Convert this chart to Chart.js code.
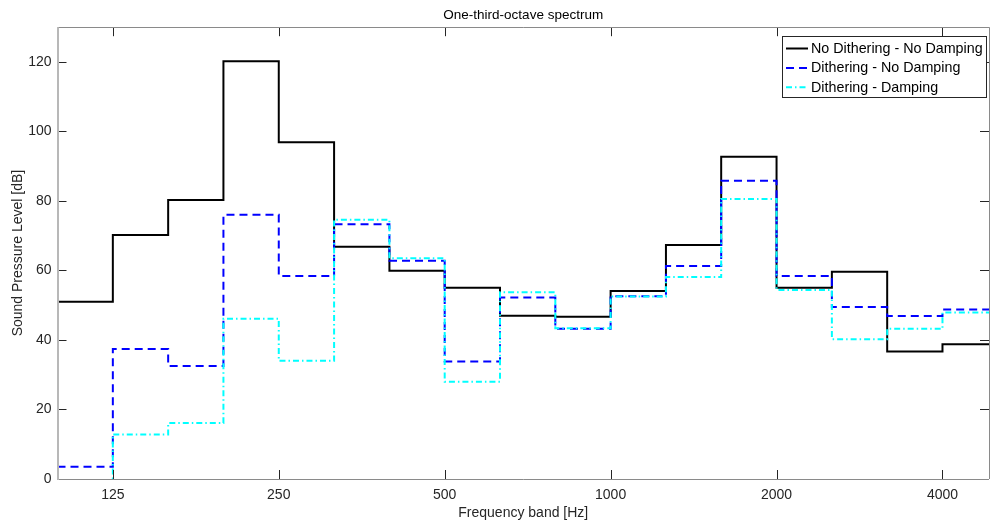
<!DOCTYPE html>
<html>
<head>
<meta charset="utf-8">
<script src="https://cdn.jsdelivr.net/npm/chart.js@4/dist/chart.umd.min.js"></script>
<style>
    html, body { margin: 0; padding: 0; background: #fff; }
</style>
</head>
<body>
<canvas id="spectrumChart" width="990" height="523"></canvas>
<script>
// Stair edges: 1/3-octave band centres in Hz (last one just closes the final step)
const bandFreqs = [99.2, 125, 157.5, 198.4, 250, 315, 396.9, 500, 630, 793.7, 1000, 1260, 1587, 2000, 2520, 3175, 4000, 5040];

// Levels per band in dB
const noDitherNoDamp = [51.0, 70.2, 80.3, 120.2, 96.9, 66.8, 59.9, 55.0, 47.0, 46.7, 54.1, 67.3, 92.7, 55.0, 59.6, 36.7, 38.8];
const ditherNoDamp   = [3.5, 37.4, 32.5, 76.0, 58.4, 73.3, 62.8, 33.8, 52.2, 43.2, 52.6, 61.3, 85.8, 58.4, 49.5, 46.9, 48.8];
const ditherDamp     = [-10, 12.8, 16.1, 46.1, 34.0, 74.6, 63.5, 28.0, 53.7, 43.4, 52.5, 58.1, 80.6, 54.4, 40.2, 43.2, 47.9];

const seriesLabels = ['No Dithering - No Damping', 'Dithering - No Damping', 'Dithering - Damping'];

// Axis ticks
const xTickValues = [125, 250, 500, 1000, 2000, 4000];
const yTickValues = [0, 20, 40, 60, 80, 100, 120];

// Turn a level list into stair points (value held until the next band)
function toStairs(levels) {
    const pts = levels.map((v, i) => ({ x: bandFreqs[i], y: v }));
    pts.push({ x: bandFreqs[levels.length], y: levels[levels.length - 1] });
    return pts;
}

const FONT = 'Arial, "Liberation Sans", Helvetica, sans-serif';

// MATLAB-like box, inward ticks and inset legend
const matlabAxes = {
    id: 'matlabAxes',
    afterDatasetsDraw(chart) {
        const { ctx, chartArea: a, scales } = chart;
        const x = scales.x, y = scales.y;
        const tl = 9;
        ctx.save();

        // tick marks on all four sides
        ctx.strokeStyle = '#262626';
        ctx.lineWidth = 1;
        ctx.beginPath();
        x.ticks.forEach(t => {
            const px = Math.round(x.getPixelForValue(t.value)) + 0.5;
            ctx.moveTo(px, a.bottom); ctx.lineTo(px, a.bottom - tl);
            ctx.moveTo(px, a.top); ctx.lineTo(px, a.top + tl);
        });
        y.ticks.forEach(t => {
            const py = Math.round(y.getPixelForValue(t.value)) + 0.5;
            ctx.moveTo(a.left, py); ctx.lineTo(a.left + tl, py);
            ctx.moveTo(a.right, py); ctx.lineTo(a.right - tl, py);
        });
        ctx.stroke();

        // axes box
        ctx.strokeStyle = '#8a8a8a';
        ctx.beginPath();
        ctx.moveTo(a.left, Math.round(a.top) + 0.5);
        ctx.lineTo(a.right, Math.round(a.top) + 0.5);
        ctx.moveTo(a.left, Math.round(a.bottom) + 0.5);
        ctx.lineTo(a.right, Math.round(a.bottom) + 0.5);
        ctx.moveTo(Math.round(a.right) + 0.5, a.top);
        ctx.lineTo(Math.round(a.right) + 0.5, a.bottom);
        ctx.stroke();
        ctx.strokeStyle = '#b8b8b8';
        ctx.lineWidth = 2;
        ctx.beginPath();
        ctx.moveTo(Math.round(a.left), a.top);
        ctx.lineTo(Math.round(a.left), a.bottom + 1);
        ctx.stroke();

        // legend
        const lx = 782.5, ly = 36.5, lw = 204, lh = 61;
        ctx.fillStyle = '#fff';
        ctx.fillRect(lx, ly, lw, lh);
        ctx.strokeStyle = '#262626';
        ctx.lineWidth = 1;
        ctx.strokeRect(lx, ly, lw, lh);
        ctx.font = '14.3px ' + FONT;
        ctx.textBaseline = 'middle';
        ctx.textAlign = 'left';
        chart.data.datasets.forEach((ds, i) => {
            const rowY = 48.5 + i * 19.4;
            ctx.strokeStyle = ds.borderColor;
            ctx.lineWidth = ds.borderWidth;
            ctx.setLineDash(ds.borderDash || []);
            ctx.beginPath();
            ctx.moveTo(786, rowY);
            ctx.lineTo(808, rowY);
            ctx.stroke();
            ctx.setLineDash([]);
            ctx.fillStyle = '#000';
            ctx.fillText(ds.label, 811, rowY + 0.5);
        });
        ctx.restore();
    }
};

new Chart(document.getElementById('spectrumChart'), {
    type: 'line',
    data: {
        datasets: [{
            label: seriesLabels[0],
            data: toStairs(noDitherNoDamp),
            borderColor: '#000000',
            borderWidth: 2,
            order: 3
        }, {
            label: seriesLabels[1],
            data: toStairs(ditherNoDamp),
            borderColor: '#0000ff',
            borderWidth: 2,
            borderDash: [8, 5],
            order: 2
        }, {
            label: seriesLabels[2],
            data: toStairs(ditherDamp),
            borderColor: '#00ffff',
            borderWidth: 2,
            borderDash: [6, 3, 1.5, 3],
            order: 1
        }]
    },
    options: {
        responsive: false,
        animation: false,
        devicePixelRatio: 1,
        elements: {
            line: { stepped: 'before', tension: 0, fill: false },
            point: { radius: 0, hoverRadius: 0 }
        },
        layout: { padding: { left: 0, right: 1, top: 0, bottom: 0 } },
        plugins: {
            legend: { display: false },
            tooltip: { enabled: false },
            title: {
                display: true,
                fullSize: false,
                text: 'One-third-octave spectrum',
                color: '#000',
                font: { family: FONT, size: 13.5, weight: 'normal', lineHeight: 1.2 },
                padding: { top: 7, bottom: 4 }
            }
        },
        scales: {
            x: {
                type: 'logarithmic',
                min: 99.2,
                max: 4858,
                grid: { display: false, drawTicks: false },
                border: { display: false },
                afterBuildTicks: s => { s.ticks = xTickValues.map(v => ({ value: v })); },
                afterFit: s => { s.height = 44; },
                ticks: {
                    autoSkip: false,
                    maxRotation: 0,
                    padding: 7.5,
                    color: '#262626',
                    font: { family: FONT, size: 14 },
                    callback: v => String(v)
                },
                title: {
                    display: true,
                    text: 'Frequency band [Hz]',
                    color: '#262626',
                    font: { family: FONT, size: 14, lineHeight: 1.2 },
                    padding: { top: 0, bottom: 1.6 }
                }
            },
            y: {
                min: 0,
                max: 130,
                grid: { display: false, drawTicks: false },
                border: { display: false },
                afterBuildTicks: s => { s.ticks = yTickValues.map(v => ({ value: v })); },
                afterFit: s => { s.width = 57.5; },
                ticks: {
                    padding: 6,
                    color: '#262626',
                    font: { family: FONT, size: 14 }
                },
                title: {
                    display: true,
                    text: 'Sound Pressure Level [dB]',
                    color: '#262626',
                    font: { family: FONT, size: 14, lineHeight: 1.2 },
                    padding: { top: 10, bottom: 0 }
                }
            }
        }
    },
    plugins: [matlabAxes]
});
</script>
</body>
</html>
